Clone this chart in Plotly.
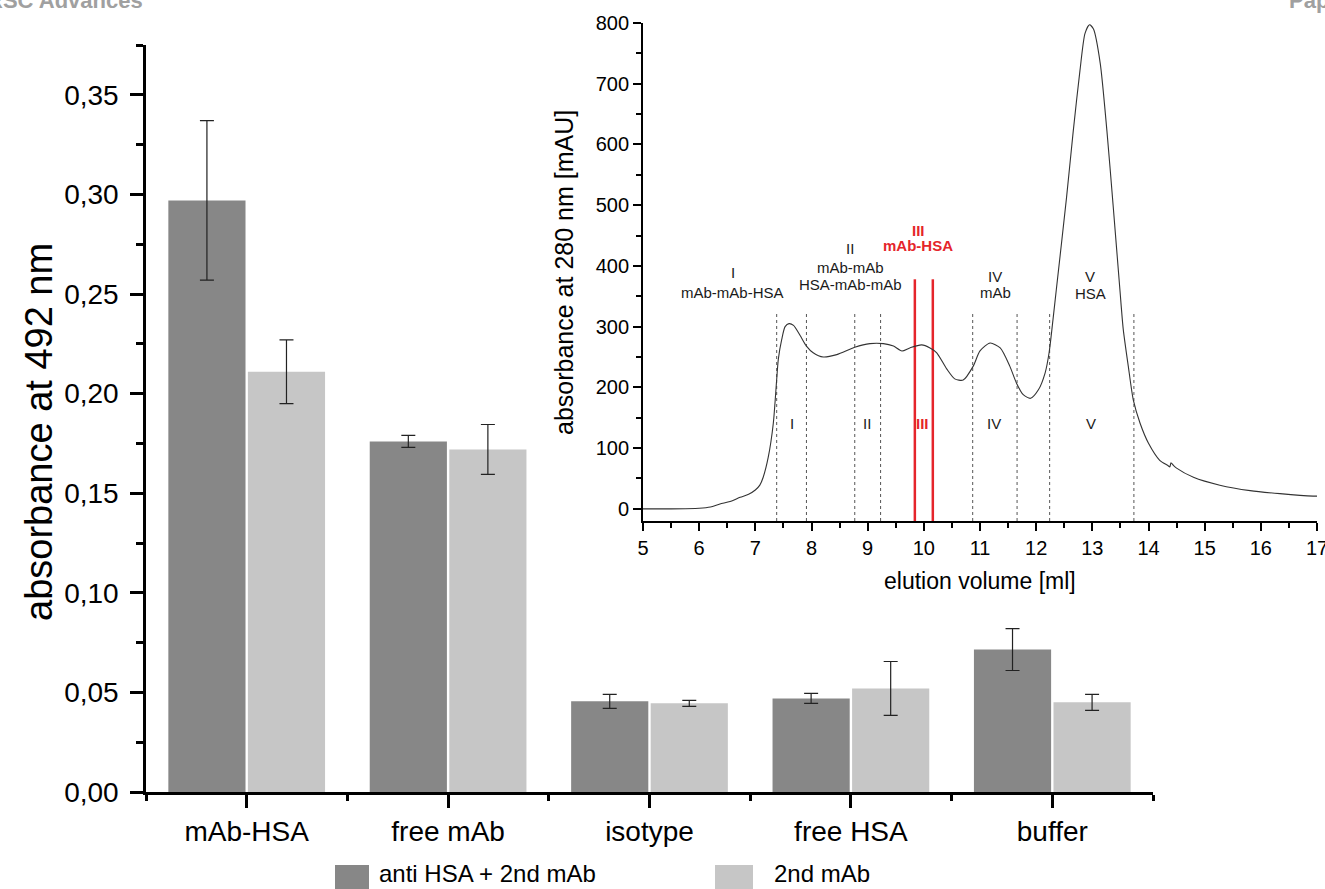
import plotly.graph_objects as go

# ---------------- data: bar chart ----------------
categories = ["mAb-HSA", "free mAb", "isotype", "free HSA", "buffer"]
series_names = ["anti HSA + 2nd mAb", "2nd mAb"]
anti_vals = [0.297, 0.176, 0.0455, 0.047, 0.0715]
anti_err = [0.040, 0.003, 0.0035, 0.0025, 0.0105]
second_vals = [0.211, 0.172, 0.0445, 0.052, 0.045]
second_err = [0.016, 0.0125, 0.0015, 0.0135, 0.004]

# ---------------- data: inset chromatogram ----------------
elution_ml = [5.0, 5.5, 6.0, 6.2, 6.37, 6.55, 6.73, 6.88, 7.0, 7.08, 7.14, 7.23, 7.32, 7.38,
              7.41, 7.47, 7.53, 7.60, 7.68, 7.80, 7.91, 8.03, 8.21, 8.45, 8.77, 9.04, 9.28,
              9.46, 9.61, 9.75, 9.96, 10.11, 10.23, 10.41, 10.55, 10.70, 10.88, 11.0, 11.18,
              11.36, 11.53, 11.65, 11.77, 11.90, 12.04, 12.16, 12.23, 12.30, 12.36, 12.54,
              12.66, 12.78, 12.87, 12.95, 13.02, 13.14, 13.26, 13.37, 13.49, 13.55, 13.64,
              13.73, 13.85, 14.0, 14.20, 14.35, 14.38, 14.40, 14.44, 14.50, 14.80, 15.27,
              15.81, 16.34, 16.93, 17.0]
absorbance_mau = [0, 0, 1, 3, 8, 12, 19, 24, 31, 39, 52, 85, 141, 213,
                  247, 279, 300, 305, 302, 285, 268, 257, 250, 254, 266, 272, 272,
                  268, 260, 265, 270, 265, 257, 230, 214, 212, 235, 260, 273,
                  265, 235, 207, 188, 182, 196, 224, 257, 312, 362, 512,
                  622, 722, 783, 797, 790, 734, 622, 500, 362, 296, 235,
                  179, 141, 108, 80, 71, 69, 76, 72, 67, 52, 39,
                  30, 25, 21, 21]
fraction_bounds = [7.38, 7.91, 8.77, 9.23, 10.87, 11.66, 12.24, 13.74]
fraction_top = 322
selected_bounds = [9.84, 10.16]
selected_top = 378

# fraction labels (inset)
head_text = ["I", "mAb-mAb-HSA", "II", "mAb-mAb", "HSA-mAb-mAb", "IV", "mAb", "V", "HSA"]
head_x = [6.60, 6.60, 8.69, 8.69, 8.69, 11.27, 11.27, 12.96, 12.96]
head_y = [390, 357, 429, 398, 369, 382, 357, 382, 355]
sel_text = ["III", "mAb-HSA"]
sel_x = [9.90, 9.90]
sel_y = [459, 433]
frac_text = ["I", "II", "IV", "V"]
frac_x = [7.66, 8.98, 11.25, 12.97]
sel_frac_text = ["III"]
sel_frac_x = [9.98]
frac_label_y = 141

FONT = "Liberation Sans, Arial, Helvetica, sans-serif"
W, H = 1325, 889
DARK = "#878787"
LIGHT = "#c6c6c6"
RED = "#e5252b"
INK = "#1a1a1a"


def px(x):
    return x / W


def py(y):
    return 1 - y / H


fig = go.Figure()
xpos = list(range(len(categories)))

fig.add_trace(go.Bar(
    x=xpos, y=anti_vals, name=series_names[0], marker=dict(color=DARK, line=dict(width=0)),
    error_y=dict(type="data", array=anti_err, color="#222222", thickness=1.2, width=7),
    xaxis="x", yaxis="y", showlegend=False))
fig.add_trace(go.Bar(
    x=xpos, y=second_vals, name=series_names[1], marker=dict(color=LIGHT, line=dict(width=0)),
    error_y=dict(type="data", array=second_err, color="#222222", thickness=1.2, width=7),
    xaxis="x", yaxis="y", showlegend=False))

# inset traces
dx, dy = [], []
for b in fraction_bounds:
    dx += [b, b, None]
    dy += [-20, fraction_top, None]
fig.add_trace(go.Scatter(x=dx, y=dy, mode="lines", xaxis="x2", yaxis="y2",
                         line=dict(color="#555555", width=1, dash="3px,3px"),
                         showlegend=False, hoverinfo="skip"))
rx, ry = [], []
for b in selected_bounds:
    rx += [b, b, None]
    ry += [-20, selected_top, None]
fig.add_trace(go.Scatter(x=rx, y=ry, mode="lines", xaxis="x2", yaxis="y2",
                         line=dict(color=RED, width=2.5), showlegend=False, hoverinfo="skip"))
fig.add_trace(go.Scatter(x=elution_ml, y=absorbance_mau, mode="lines", xaxis="x2", yaxis="y2",
                         line=dict(color="#333333", width=1.1, shape="spline", smoothing=0.7),
                         showlegend=False))

annotations = []
for t, x, y in zip(head_text, head_x, head_y):
    annotations.append(dict(x=x, y=y, xref="x2", yref="y2", text=t, showarrow=False,
                            xanchor="center", yanchor="middle",
                            font=dict(family=FONT, size=15, color=INK)))
for t, x, y in zip(sel_text, sel_x, sel_y):
    annotations.append(dict(x=x, y=y, xref="x2", yref="y2", text="<b>%s</b>" % t, showarrow=False,
                            xanchor="center", yanchor="middle",
                            font=dict(family=FONT, size=15, color=RED)))
for t, x in zip(frac_text, frac_x):
    annotations.append(dict(x=x, y=frac_label_y, xref="x2", yref="y2", text=t, showarrow=False,
                            xanchor="center", yanchor="middle",
                            font=dict(family=FONT, size=15, color=INK)))
for t, x in zip(sel_frac_text, sel_frac_x):
    annotations.append(dict(x=x, y=frac_label_y, xref="x2", yref="y2", text="<b>%s</b>" % t,
                            xanchor="center", yanchor="middle",
                            showarrow=False, font=dict(family=FONT, size=15, color=RED)))

# axis titles
annotations.append(dict(x=px(39), y=py(432), xref="paper", yref="paper", text="absorbance at 492 nm",
                        textangle=-90, showarrow=False, xanchor="center", yanchor="middle",
                        font=dict(family=FONT, size=38, color="black")))
annotations.append(dict(x=px(564), y=py(273), xref="paper", yref="paper",
                        text="absorbance at 280 nm [mAU]", textangle=-90, showarrow=False,
                        xanchor="center", yanchor="middle",
                        font=dict(family=FONT, size=25, color="black")))
annotations.append(dict(x=px(980), y=py(581), xref="paper", yref="paper", text="elution volume [ml]",
                        showarrow=False, xanchor="center", yanchor="middle",
                        font=dict(family=FONT, size=23, color="black")))

# legend (custom)
shapes = []
leg_swatch_x = [(335, 369), (715, 753)]
leg_text_x = [377, 772]
for (x0, x1), tx, name, col in zip(leg_swatch_x, leg_text_x, series_names, [DARK, LIGHT]):
    shapes.append(dict(type="rect", xref="paper", yref="paper", x0=px(x0), x1=px(x1),
                       y0=py(895), y1=py(865), fillcolor=col, line=dict(width=0)))
    annotations.append(dict(x=px(tx), y=py(873), xref="paper", yref="paper", text=name,
                            xanchor="left", yanchor="middle", showarrow=False,
                            font=dict(family=FONT, size=24, color="black")))

# journal header fragments
annotations.append(dict(x=px(145), y=py(15), xref="paper", yref="paper", text="<b>RSC Advances</b>",
                        xanchor="right", yanchor="bottom", showarrow=False,
                        font=dict(family=FONT, size=22, color="#a0a0a0")))
annotations.append(dict(x=px(1287), y=py(15), xref="paper", yref="paper", text="<b>Paper</b>",
                        xanchor="left", yanchor="bottom", showarrow=False,
                        font=dict(family=FONT, size=22, color="#a0a0a0")))

axis_common = dict(showgrid=False, zeroline=False, automargin=False, showline=True,
                   linecolor="black", tickcolor="black", ticks="outside",
                   ticklabeloverflow="allow")

fig.update_layout(
    template="none",
    width=W, height=H, margin=dict(l=0, r=0, t=0, b=0, pad=0),
    paper_bgcolor="white", plot_bgcolor="rgba(0,0,0,0)",
    separators=",.", barmode="group", bargap=0.21, bargroupgap=0.03,
    font=dict(family=FONT, color="black"),
    showlegend=False,
    xaxis=dict(domain=[px(146), px(1153)], range=[-0.5, 4.5], tickmode="array", tickvals=xpos,
               ticktext=categories, linewidth=2.5, ticklen=13, tickwidth=2.5,
               tickfont=dict(family=FONT, size=28, color="black"),
               minor=dict(ticks="outside", ticklen=6, tickwidth=2.5, tickcolor="black",
                          tick0=0.5, dtick=1),
               anchor="y", **axis_common),
    yaxis=dict(domain=[py(792), py(45)], range=[0, 0.375], tickmode="linear", tick0=0, dtick=0.05,
               tickformat=".2f", linewidth=2.5, ticklen=13, tickwidth=2.5,
               tickfont=dict(family=FONT, size=28, color="black"),
               minor=dict(ticks="outside", ticklen=7, tickwidth=2.5, tickcolor="black",
                          tick0=0, dtick=0.025),
               anchor="x", ticklabelstandoff=6, **axis_common),
    xaxis2=dict(domain=[px(643), px(1317)], range=[5, 17], tickmode="linear", tick0=5, dtick=1,
                linewidth=1.8, ticklen=8, tickwidth=1.8,
                tickfont=dict(family=FONT, size=20, color="black"),
                minor=dict(ticks="outside", ticklen=5, tickwidth=1.5, tickcolor="black",
                           tick0=5, dtick=0.5),
                anchor="y2", **axis_common),
    yaxis2=dict(domain=[py(521), py(23)], range=[-20, 800], tickmode="linear", tick0=0, dtick=100,
                linewidth=1.8, ticklen=8, tickwidth=1.8,
                tickfont=dict(family=FONT, size=20, color="black"),
                minor=dict(ticks="outside", ticklen=5, tickwidth=1.5, tickcolor="black",
                           tick0=0, dtick=50),
                anchor="x2", **axis_common),
    annotations=annotations, shapes=shapes,
)

fig.write_html("out.html", config={"displayModeBar": False},
               post_script="document.body.style.margin='0px';")
